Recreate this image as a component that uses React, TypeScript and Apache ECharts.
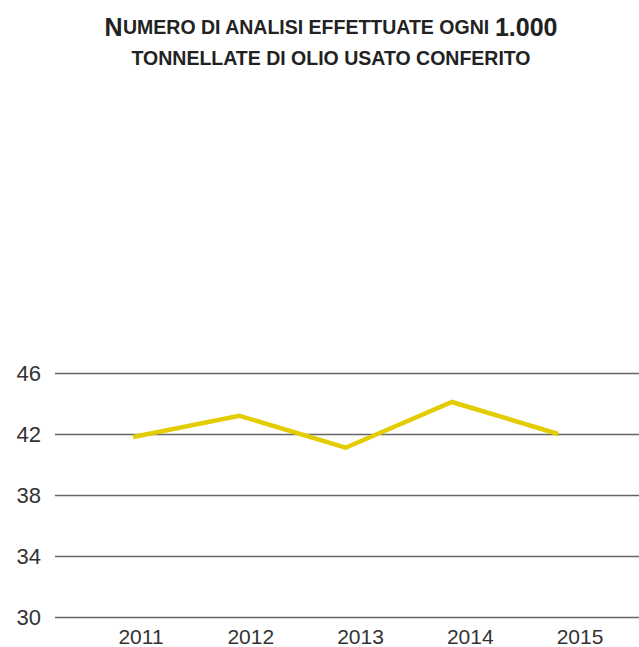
import React, { useEffect, useRef } from "react";
import * as echarts from "echarts";

const years = [2011, 2012, 2013, 2014, 2015];
const analyses = [41.8, 43.2, 41.1, 44.1, 42.0];
const yTicks = { min: 30, max: 46, interval: 4 };
const titleLine1Big1 = "N";
const titleLine1Small = "UMERO DI ANALISI EFFETTUATE OGNI ";
const titleLine1Big2 = "1.000";
const titleLine2 = "TONNELLATE DI OLIO USATO CONFERITO";

export default function App() {
  const ref = useRef<HTMLDivElement>(null);
  useEffect(() => {
    document.body.style.margin = "0";
    const chart = echarts.init(ref.current!, undefined, { renderer: "svg" });
    const font = "Liberation Sans, Arial, sans-serif";
    chart.setOption({
      animation: false,
      backgroundColor: "#ffffff",
      title: {
        left: 331,
        textAlign: "center",
        top: 11,
        padding: 0,
        text:
          "{big|" + titleLine1Big1 + "}{small|" + titleLine1Small + "}{big|" + titleLine1Big2 + "}\n{small|" + titleLine2 + "}",
        textStyle: {
          fontFamily: font,
          lineHeight: 31,
          rich: {
            big: { fontSize: 25, fontWeight: "bold", color: "#222", fontFamily: font, lineHeight: 31 },
            small: { fontSize: 19.5, fontWeight: "bold", color: "#222", fontFamily: font, lineHeight: 31 },
          },
        },
      },
      grid: { left: 55, right: 0, top: 373, bottom: 28, containLabel: false },
      xAxis: [
        {
          type: "value",
          min: 2010.266,
          max: 2015.76,
          show: false,
          splitLine: { show: false },
        },
        {
          type: "value",
          min: 2010.2164,
          max: 2015.5376,
          position: "bottom",
          axisLine: { show: false },
          axisTick: { show: false },
          splitLine: { show: false },
          axisLabel: {
            customValues: years,
            formatter: (v: number) => String(Math.round(v)),
            fontSize: 21,
            color: "#333",
            fontFamily: font,
            margin: 9,
          },
        },
      ],
      yAxis: {
        type: "value",
        min: yTicks.min,
        max: yTicks.max,
        interval: yTicks.interval,
        axisLine: { show: false },
        axisTick: { show: false },
        axisLabel: { fontSize: 22, color: "#333", fontFamily: font, margin: 14 },
        splitLine: { lineStyle: { color: "#666", width: 1.3 } },
      },
      series: [
        {
          type: "line",
          xAxisIndex: 0,
          data: years.map((y, i) => [y, analyses[i]]),
          symbol: "none",
          lineStyle: { color: "#E3CC00", width: 4.5, cap: "butt", join: "miter" },
        },
      ],
    });
    return () => chart.dispose();
  }, []);
  return <div ref={ref} style={{ width: 639, height: 647 }} />;
}
